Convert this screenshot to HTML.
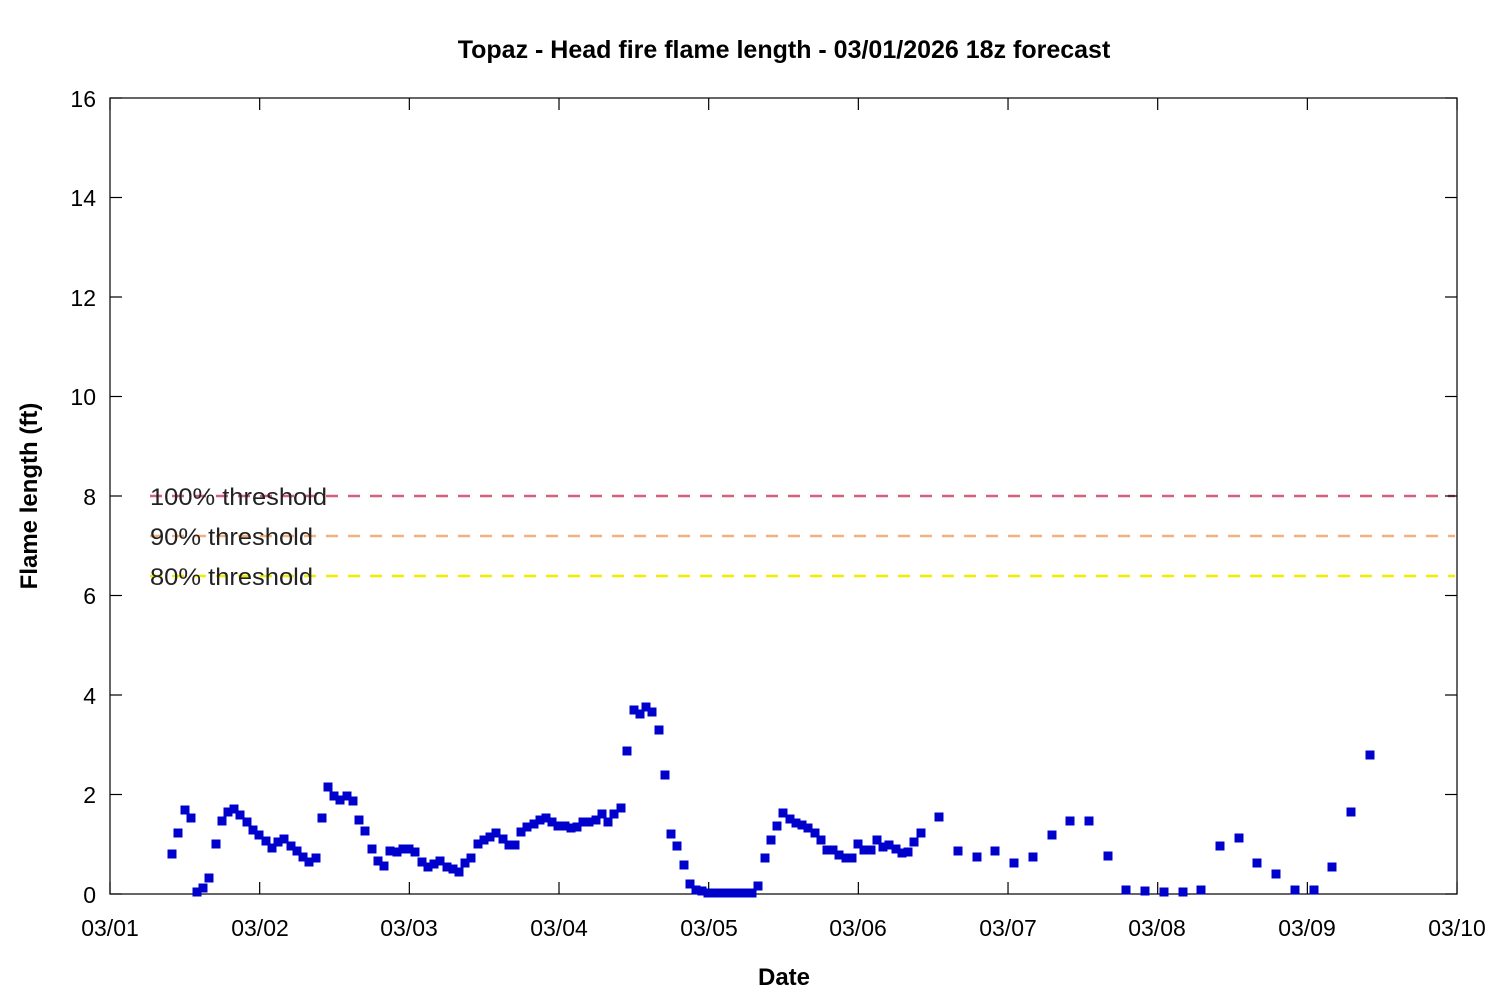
<!DOCTYPE html>
<html><head><meta charset="utf-8"><style>body{margin:0;background:#fff}</style></head><body>
<svg width="1500" height="1000" xmlns="http://www.w3.org/2000/svg" font-family="Liberation Sans, DejaVu Sans, sans-serif">
<rect width="1500" height="1000" fill="#fff"/>
<text x="784" y="58" font-size="25" font-weight="bold" text-anchor="middle">Topaz - Head fire flame length - 03/01/2026 18z forecast</text>
<text x="784" y="985" font-size="24" font-weight="bold" text-anchor="middle">Date</text>
<text transform="translate(37,496) rotate(-90)" font-size="24" font-weight="bold" text-anchor="middle">Flame length (ft)</text>
<g stroke-width="2.5" stroke-dasharray="12,10">
<line x1="150" y1="496" x2="1455" y2="496" stroke="#d4607a"/>
<line x1="150" y1="536" x2="1455" y2="536" stroke="#f2b080"/>
<line x1="150" y1="576" x2="1455" y2="576" stroke="#eeee00"/>
</g>
<g font-size="24" fill="#222">
<text x="150" y="505" textLength="177" lengthAdjust="spacingAndGlyphs">100% threshold</text>
<text x="150" y="545" textLength="163" lengthAdjust="spacingAndGlyphs">90% threshold</text>
<text x="150" y="585" textLength="163" lengthAdjust="spacingAndGlyphs">80% threshold</text>
</g>
<rect x="110" y="98" width="1347" height="796" fill="none" stroke="#000" stroke-width="1.2"/>
<g stroke="#000" stroke-width="1.2" id="ticks"></g>
<g font-size="23" text-anchor="end" fill="#000">
<text x="96" y="903">0</text><text x="96" y="803">2</text><text x="96" y="704">4</text><text x="96" y="604">6</text><text x="96" y="505">8</text><text x="96" y="405">10</text><text x="96" y="306">12</text><text x="96" y="206">14</text><text x="96" y="107">16</text>
</g>
<g font-size="23" text-anchor="middle" fill="#000">
<text x="110" y="936">03/01</text><text x="260" y="936">03/02</text><text x="409" y="936">03/03</text><text x="559" y="936">03/04</text><text x="709" y="936">03/05</text><text x="858" y="936">03/06</text><text x="1008" y="936">03/07</text><text x="1157" y="936">03/08</text><text x="1307" y="936">03/09</text><text x="1457" y="936">03/10</text>
</g>
<g id="pts" fill="#0000cc"></g>
</svg>
<script>
var t=document.getElementById('ticks'),s='';
[894,794.5,695,595.5,496,396.5,297,197.5,98].forEach(function(y){s+='<line x1="110" y1="'+y+'" x2="122" y2="'+y+'"/><line x1="1445" y1="'+y+'" x2="1457" y2="'+y+'"/>';});
for(var i=0;i<10;i++){var x=110+i*149.67;s+='<line x1="'+x+'" y1="894" x2="'+x+'" y2="882"/><line x1="'+x+'" y1="98" x2="'+x+'" y2="110"/>';}
t.innerHTML=s;
var p=[172,854,178,833,185,810,191,818,197,892,203,888,209,878,216,844,222,821,228,812,234,809,240,815,247,822,253,830,259,835,266,841,272,848,278,842,284,839,291,846,297,851,303,857,309,862,316,858,322,818,328,787,334,796,340,800,347,796,353,801,359,820,365,831,372,849,378,861,384,866,390,851,397,852,403,849,409,849,415,852,422,862,428,867,434,864,440,861,447,867,453,869,459,872,465,863,471,858,478,844,484,840,490,837,496,833,503,839,509,845,515,845,521,832,527,827,534,824,540,820,546,818,552,822,558,826,565,826,571,828,577,827,583,822,589,822,596,820,602,814,608,822,614,814,621,808,627,751,634,710,640,714,646,707,652,712,659,730,665,775,671,834,677,846,684,865,690,884,696,890,702,891,708,893,714,893,720,893,727,893,733,893,739,893,745,893,752,893,758,886,765,858,771,840,777,826,783,813,790,819,796,823,802,825,808,828,815,833,821,840,827,850,833,850,839,855,846,858,852,858,858,844,864,850,871,850,877,840,883,847,889,845,896,849,902,853,908,852,914,842,921,833,939,817,958,851,977,857,995,851,1014,863,1033,857,1052,835,1070,821,1089,821,1108,856,1126,890,1145,891,1164,892,1183,892,1201,890,1220,846,1239,838,1257,863,1276,874,1295,890,1314,890,1332,867,1351,812,1370,755];
var h='';for(var i=0;i<p.length;i+=2)h+='<rect x="'+(p[i]-4.5)+'" y="'+(p[i+1]-4.5)+'" width="9" height="9"/>';
document.getElementById('pts').innerHTML=h;
</script>
</body></html>
